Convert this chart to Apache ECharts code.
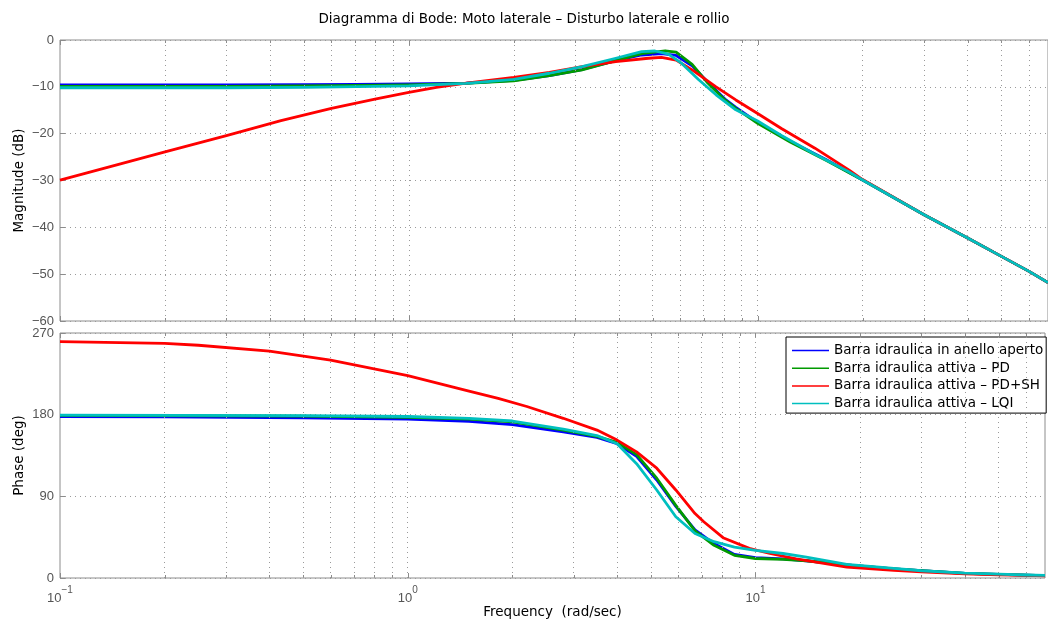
<!DOCTYPE html>
<html>
<head>
<meta charset="utf-8">
<script src="https://cdn.jsdelivr.net/npm/echarts@6/dist/echarts.min.js"></script>
<style>
  html, body { margin: 0; padding: 0; background: #fff; }
  #chart { width: 1048px; height: 626px; }
</style>
</head>
<body>
<div id="chart"></div>
<script>
// Series names and colours (blue, green, red, cyan)
const seriesNames = [
  'Barra idraulica in anello aperto',
  'Barra idraulica attiva – PD',
  'Barra idraulica attiva – PD+SH',
  'Barra idraulica attiva – LQI'
];
const seriesColors = ['#0000ff', '#009a00', '#ff0000', '#00bfbf'];

// Magnitude responses: [frequency (rad/s), dB]
const magOpenLoop = [[0.1,-9.6],[0.2,-9.6],[0.3,-9.6],[0.5,-9.55],[0.7,-9.5],[1,-9.4],[1.46,-9.2],[2,-8.6],[2.53,-7.6],[3.14,-6.3],[3.92,-4.4],[4.65,-3.2],[5.3,-2.9],[5.84,-3.3],[6.49,-5.5],[7.2,-9.0],[8.06,-12.6],[8.66,-14.4],[10,-17.6],[12.4,-21.6],[15.7,-25.5],[20,-29.9],[30,-37.3],[40,-42.3],[50,-46.2],[60,-49.4],[68,-51.8]];
const magPD = [[0.1,-9.9],[0.3,-9.9],[0.5,-9.8],[1,-9.6],[1.46,-9.25],[2,-8.7],[2.53,-7.6],[3.14,-6.4],[3.92,-4.4],[4.65,-2.9],[5.43,-2.3],[5.84,-2.6],[6.49,-5.2],[7.2,-9.2],[8.06,-12.8],[8.66,-14.6],[10,-17.8],[12.4,-21.8],[15.7,-25.7],[20,-29.9],[30,-37.3],[40,-42.3],[50,-46.2],[60,-49.4],[68,-51.8]];
const magPDSH = [[0.1,-29.9],[0.15,-26.4],[0.2,-23.9],[0.3,-20.4],[0.43,-17.2],[0.6,-14.6],[0.8,-12.6],[1,-11.2],[1.2,-10.1],[1.46,-9.2],[2,-8.0],[2.53,-6.9],[3.14,-5.7],[3.92,-4.6],[4.86,-3.9],[5.3,-3.7],[5.84,-4.3],[6.49,-6.4],[7.6,-10.0],[8.66,-12.8],[10,-15.7],[11.7,-18.9],[14.6,-23.1],[18.3,-27.8],[20,-29.8],[30,-37.3],[40,-42.3],[50,-46.2],[60,-49.4],[68,-51.8]];
const magLQI = [[0.1,-10.2],[0.3,-10.2],[0.5,-10.1],[0.8,-9.9],[1,-9.8],[1.46,-9.25],[2,-8.4],[2.53,-7.1],[3.14,-5.7],[3.92,-3.9],[4.65,-2.5],[5.08,-2.35],[5.55,-3.0],[6.06,-5.0],[6.78,-8.5],[7.6,-11.7],[8.66,-14.9],[10,-17.3],[11.7,-20.4],[14.6,-24.4],[18.3,-28.2],[20,-29.9],[30,-37.3],[40,-42.3],[50,-46.2],[60,-49.4],[68,-51.8]];

// Phase responses: [frequency (rad/s), deg]
const phaseOpenLoop = [[0.1,178],[0.2,177.5],[0.5,176.5],[1,175],[1.5,172.5],[2,169],[2.8,161],[3.5,155],[4,148],[4.55,134],[5.2,108],[5.9,79],[6.7,53],[7.6,38],[8.7,26],[10,22.5],[12,21],[14,19],[18.3,14.5],[25,10],[30,8],[40,5.2],[50,4],[60,3.2],[68,2.7]];
const phasePD = [[0.1,179.3],[0.5,178.5],[1,177],[1.5,175],[2,172],[2.8,163],[3.5,156],[4,149.5],[4.55,136],[5.2,110],[5.9,80],[6.7,52],[7.6,36],[8.7,25],[10,21.5],[12,20.5],[14,19],[18.3,14.5],[25,10],[30,8],[40,5.2],[50,4],[60,3.2],[68,2.7]];
const phasePDSH = [[0.1,260.5],[0.2,258.6],[0.25,256.5],[0.4,250],[0.6,240],[1,223],[1.5,206],[1.82,198],[2.2,189],[2.8,176],[3.5,163],[4,152],[4.55,139],[5.2,121],[5.9,97],[6.7,71],[7.1,62],[8.1,44],[9.6,32.7],[11,27],[13.1,21],[18.3,12],[25,8.5],[30,6.8],[40,4.6],[50,3.6],[60,3],[68,2.5]];
const phaseLQI = [[0.1,179.5],[0.5,179],[1,178],[1.5,176],[2,173],[2.8,164],[3.5,157],[4,148],[4.55,126],[5.2,97],[5.9,67.5],[6.7,49],[7.6,40],[8.7,34],[10,30.5],[12,27],[14,23],[18.3,15],[25,10.5],[30,8],[40,5.3],[50,4.2],[60,3.3],[68,2.8]];

// Frequency axis decades and the in-between grid positions
const majorFreqs = [0.1, 1, 10];
const minorFreqs = [0.2,0.3,0.4,0.5,0.6,0.7,0.8,0.9, 2,3,4,5,6,7,8,9, 20,30,40,50,60];
const freqMin = 0.1, freqMax = 68;

const magData = [magOpenLoop, magPD, magPDSH, magLQI];
const phaseData = [phaseOpenLoop, phasePD, phasePDSH, phaseLQI];

const NUM_FONT = '"Liberation Sans", Helvetica, Arial, sans-serif';
const TEXT_FONT = '"DejaVu Sans", "Liberation Sans", sans-serif';
const TEXT_SIZE = 13.5;
const FRAME = '#8c8c8c';
const GRIDLINE = '#9a9a9a';

const chart = echarts.init(document.getElementById('chart'));

const supMinus = s => s.replace('-', '−');

function freqAxis(gridIndex, withLabels) {
  return {
    type: 'log', logBase: 10, gridIndex, min: freqMin, max: freqMax,
    axisLine: { show: false }, axisTick: { show: false }, splitLine: { show: false },
    axisLabel: withLabels ? {
      show: true, margin: 7, color: '#555',
      formatter: v => {
        const e = Math.log10(v), r = Math.round(e);
        if (Math.abs(e - r) > 1e-6) return '';
        return '{b|10}{s|' + supMinus(String(r)) + '}';
      },
      rich: {
        b: { fontSize: 13, fontFamily: NUM_FONT, color: '#555', lineHeight: 20, verticalAlign: 'bottom' },
        s: { fontSize: 10, fontFamily: NUM_FONT, color: '#555', lineHeight: 20, verticalAlign: 'top' }
      }
    } : { show: false },
    name: withLabels ? 'Frequency  (rad/sec)' : '',
    nameLocation: 'middle', nameGap: 27, nameMoveOverlap: false,
    nameTextStyle: { color: '#000', fontSize: TEXT_SIZE, fontFamily: TEXT_FONT }
  };
}

function valueAxis(gridIndex, min, max, interval, name) {
  return {
    type: 'value', gridIndex, min, max, interval,
    axisLine: { show: false },
    axisTick: { show: true, inside: true, length: 5, lineStyle: { color: FRAME } },
    axisLabel: { color: '#555', fontSize: 13, fontFamily: NUM_FONT, margin: 6, formatter: v => supMinus(String(v)) },
    splitLine: { show: true, lineStyle: { color: GRIDLINE, type: [1, 4], width: 1 } },
    name, nameLocation: 'middle', nameGap: 34, nameRotate: 90, nameMoveOverlap: false,
    nameTextStyle: { color: '#000', fontSize: TEXT_SIZE, fontFamily: TEXT_FONT }
  };
}

// Frequency ticks along the top and bottom frame of a panel, plus the dotted vertical grid
function frameTicks(gridIndex, yLo, yHi) {
  const freqs = majorFreqs.concat(minorFreqs);
  return {
    type: 'custom', xAxisIndex: gridIndex, yAxisIndex: gridIndex,
    silent: true, animation: false, z: 1,
    data: freqs.map(f => [f, yLo]),
    renderItem(params, api) {
      const f = api.value(0);
      const len = majorFreqs.indexOf(f) >= 0 ? 5 : 3;
      const b = api.coord([f, yLo]);
      const t = api.coord([f, yHi]);
      const x = Math.round(b[0]) + 0.5;
      return {
        type: 'group',
        children: [
          { type: 'line', shape: { x1: x, y1: b[1], x2: x, y2: b[1] - len }, style: { stroke: FRAME, lineWidth: 1 } },
          { type: 'line', shape: { x1: x, y1: t[1], x2: x, y2: t[1] + len }, style: { stroke: FRAME, lineWidth: 1 } }
        ]
      };
    },
    markLine: {
      silent: true, symbol: 'none', animation: false,
      label: { show: false },
      lineStyle: { color: GRIDLINE, type: [1, 4], width: 1 },
      data: freqs.filter(f => f > freqMin).map(f => ({ xAxis: f }))
    }
  };
}

const series = [frameTicks(0, -60, 0), frameTicks(1, 0, 270)];
seriesNames.forEach((name, i) => {
  const common = {
    name, type: 'line', symbol: 'none', smooth: false,
    lineStyle: { width: 2.8, color: seriesColors[i], join: 'round' }, itemStyle: { color: seriesColors[i] },
    animation: false, z: 3 + i, clip: true
  };
  series.push(Object.assign({}, common, { xAxisIndex: 0, yAxisIndex: 0, data: magData[i] }));
  series.push(Object.assign({}, common, { xAxisIndex: 1, yAxisIndex: 1, data: phaseData[i] }));
});

chart.setOption({
  backgroundColor: '#fff',
  animation: false,
  title: {
    text: 'Diagramma di Bode: Moto laterale – Disturbo laterale e rollio',
    left: 'center', top: 7,
    textStyle: { fontSize: TEXT_SIZE, fontWeight: 'normal', color: '#000', fontFamily: TEXT_FONT }
  },
  grid: [
    { left: 60, right: -2, top: 40, height: 281, show: true, borderColor: FRAME, borderWidth: 1, backgroundColor: 'transparent' },
    { left: 60, right: -2, top: 333, height: 245, show: true, borderColor: FRAME, borderWidth: 1, backgroundColor: 'transparent' }
  ],
  xAxis: [freqAxis(0, false), freqAxis(1, true)],
  yAxis: [
    valueAxis(0, -60, 0, 10, 'Magnitude (dB)'),
    valueAxis(1, 0, 270, 90, 'Phase (deg)')
  ],
  legend: {
    data: seriesNames, orient: 'vertical', left: 786, top: 337,
    selectedMode: false, icon: 'rect', itemWidth: 37, itemHeight: 1.5, itemGap: 2.7,
    padding: [6, 3, 2, 6], backgroundColor: '#fff', borderColor: '#000', borderWidth: 1,
    textStyle: { fontSize: TEXT_SIZE, color: '#000', fontFamily: TEXT_FONT, lineHeight: 15 }
  },
  series
});
</script>
</body>
</html>
